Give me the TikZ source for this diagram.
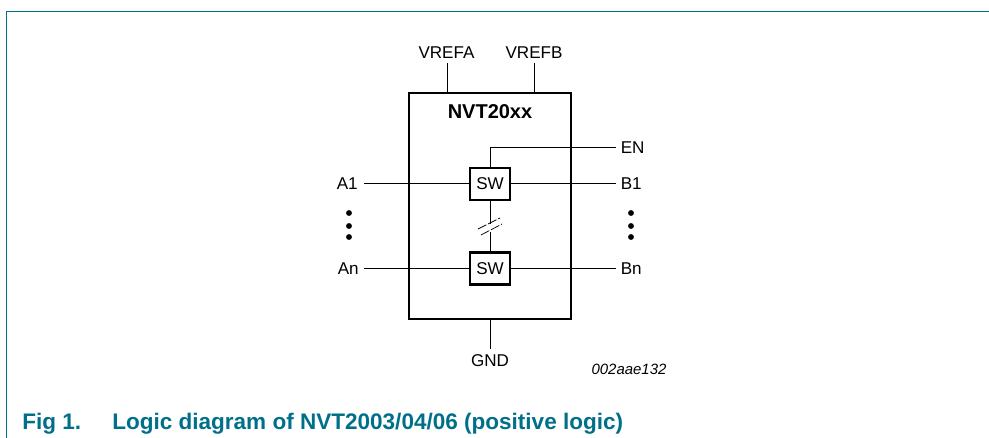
\documentclass[tikz,border=0pt]{standalone}
\usepackage{fontspec}
\setmainfont{Liberation Sans}
\definecolor{nxp}{HTML}{00708A}
\tikzset{
  x=0.75pt,y=-0.75pt,
  lbl/.style={inner sep=0pt,font=\fontsize{12.8pt}{14pt}\selectfont},
  swbox/.style={draw,line width=1.7pt,minimum width=30pt,minimum height=24pt,inner sep=0pt,font=\fontsize{12.8pt}{14pt}\selectfont},
  wire/.style={line width=0.75pt},
  dotmark/.style={circle,fill=black,inner sep=0pt,minimum size=4.4pt},
  captext/.style={inner sep=0pt,anchor=base west,text=nxp,font=\bfseries\fontsize{16.9pt}{18pt}\selectfont}
}
\begin{document}
\begin{tikzpicture}
\useasboundingbox (0,0) rectangle (989,438);
\draw[nxp,line width=0.8pt] (989,11.5) -- (6.5,11.5) -- (6.5,438);
\node[draw,line width=1.7pt,minimum width=121.5pt,minimum height=169.5pt,inner sep=0pt] (chip) at (490,206) {};
\node[anchor=north,inner sep=0pt,font=\bfseries\fontsize{15pt}{16pt}\selectfont] (title) at (490,104) {NVT20xx};
\node[swbox] (sw1) at (490,184) {SW};
\node[swbox] (sw2) at (490,268.5) {SW};
\node[lbl] (vrefa) at (446.5,53) {VREFA};
\node[lbl] (vrefb) at (534,53) {VREFB};
\node[lbl] (gnd) at (490,361) {GND};
\node[lbl,anchor=west] (en) at (620.5,148) {EN};
\node[lbl,anchor=west] (b1) at (620.5,184) {B1};
\node[lbl,anchor=west] (bn) at (620.5,268.5) {Bn};
\node[lbl,anchor=east] (a1) at (358,184) {A1};
\node[lbl,anchor=east] (an) at (359,268.5) {An};
\coordinate (vat) at (447,63);
\coordinate (vbt) at (534,63);
\coordinate (gt) at (490,349);
\coordinate (ens) at (616,148);
\coordinate (b1s) at (616,184);
\coordinate (bns) at (616,268.5);
\coordinate (a1s) at (364,184);
\coordinate (ans) at (364,268.5);
\coordinate (gapa) at (490,224);
\coordinate (gapb) at (490,232);
\draw[wire] (vat) -- (447,93);
\draw[wire] (vbt) -- (534,93);
\draw[wire] (chip.south) -- (gt);
\draw[wire] (sw1.north) |- (ens);
\draw[wire] (sw1.east) -- (b1s);
\draw[wire] (sw2.east) -- (bns);
\draw[wire] (a1s) -- (sw1.west);
\draw[wire] (ans) -- (sw2.west);
\draw[wire] (sw1.south) -- (gapa);
\draw[wire] (gapb) -- (sw2.north);
\draw[line width=0.55pt,dash pattern=on 7pt off 1.5pt] (478,229) -- (500,218);
\draw[line width=0.55pt,dash pattern=on 7pt off 1.5pt] (481,235) -- (502,224);
\foreach \n/\x in {l/349,r/631}{
  \node[dotmark] (\n1) at (\x,213) {};
  \node[dotmark] (\n2) at (\x,226) {};
  \node[dotmark] (\n3) at (\x,237) {};
}
\node[inner sep=0pt,font=\itshape\fontsize{11.2pt}{12pt}\selectfont] (code) at (629,369) {002aae132};
\node[captext] (figno) at (22,429.5) {Fig 1.};
\node[captext] (captxt) at (112,429.5) {Logic diagram of NVT2003/04/06 (positive logic)};
\end{tikzpicture}
\end{document}
